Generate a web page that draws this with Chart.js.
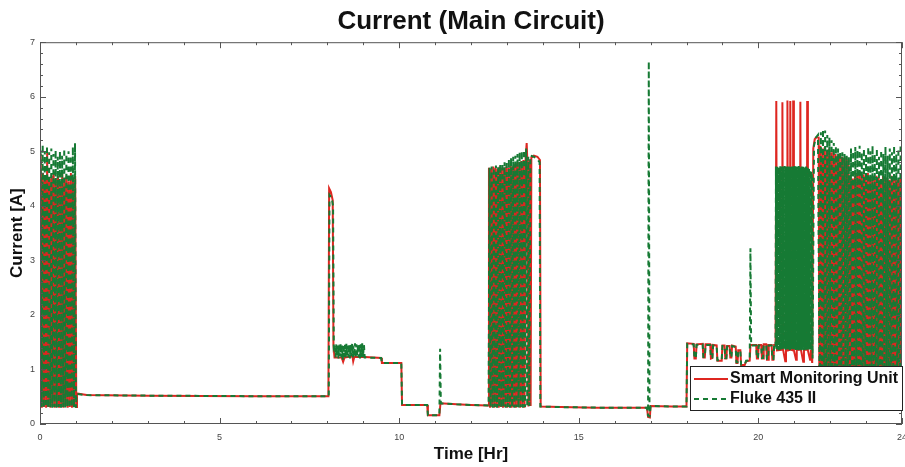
<!DOCTYPE html>
<html>
<head>
<meta charset="utf-8">
<script src="https://cdn.jsdelivr.net/npm/chart.js@4.4.0/dist/chart.umd.min.js"></script>
<style>
  html, body { margin: 0; padding: 0; background: #fff; }
  #wrap { width: 905px; height: 467px; position: relative; }
</style>
</head>
<body>
<div id="wrap"><canvas id="currentChart"></canvas></div>
<script>
// --- Datos: [hora, corriente A] ---
const smuReadings = [
  [0.00,0.32],[0.02,4.95],[0.05,0.30],[0.08,4.60],[0.11,0.31],[0.14,4.55],[0.17,0.30],[0.20,4.98],[0.23,0.31],[0.26,4.50],
  [0.29,0.30],[0.32,4.55],[0.35,0.32],[0.38,4.60],[0.41,0.30],[0.44,4.50],[0.47,0.31],[0.50,4.55],[0.53,0.30],[0.56,4.45],
  [0.59,0.31],[0.62,4.60],[0.65,0.30],[0.68,4.50],[0.71,0.32],[0.74,4.55],[0.77,0.30],[0.80,4.45],[0.83,0.31],[0.86,4.60],
  [0.89,0.30],[0.92,4.50],[0.95,0.31],[0.98,4.55],[1.01,0.31],[1.03,0.56],[1.30,0.53],[3.00,0.52],[6.00,0.51],[8.03,0.51],
  [8.05,4.32],[8.10,4.25],[8.15,4.10],[8.17,1.45],[8.20,1.22],[8.40,1.22],[8.44,1.14],[8.48,1.22],[8.70,1.24],[8.72,1.15],
  [8.75,1.23],[9.05,1.23],[9.50,1.21],[9.52,1.12],[10.06,1.12],[10.08,0.35],[10.78,0.35],[10.80,0.16],[11.12,0.16],[11.15,0.38],
  [11.60,0.36],[12.00,0.35],[12.48,0.34],
  [12.50,4.70],[12.53,0.30],[12.56,4.68],[12.59,0.31],[12.62,4.72],[12.65,0.30],[12.68,4.70],[12.71,0.31],[12.74,4.68],[12.77,0.30],
  [12.80,4.72],[12.83,0.31],[12.86,4.70],[12.89,0.30],[12.92,4.70],[12.95,0.31],[12.98,4.72],[13.01,0.30],[13.04,4.70],[13.07,0.31],
  [13.10,4.74],[13.13,0.30],[13.16,4.72],[13.19,0.31],[13.22,4.76],[13.25,0.30],[13.28,4.78],[13.31,0.31],[13.34,4.80],[13.37,0.30],
  [13.40,4.82],[13.43,0.31],[13.46,4.84],[13.49,0.30],[13.52,4.86],[13.55,5.15],[13.57,4.80],[13.60,0.32],[13.63,4.85],[13.66,0.33],
  [13.68,4.88],[13.75,4.92],[13.85,4.90],[13.92,4.84],[13.94,0.32],
  [14.50,0.31],[15.50,0.30],[16.90,0.30],[16.93,0.13],[16.98,0.12],[17.00,0.33],[17.60,0.32],[18.00,0.32],
  [18.02,1.48],[18.20,1.47],[18.22,1.20],[18.26,1.20],[18.28,1.46],[18.45,1.47],[18.47,1.22],[18.51,1.22],[18.53,1.46],[18.66,1.46],
  [18.68,1.20],[18.72,1.21],[18.74,1.45],[18.84,1.44],[18.86,1.16],[18.98,1.16],[19.00,1.44],[19.06,1.44],[19.08,1.20],[19.11,1.20],
  [19.13,1.43],[19.20,1.43],[19.22,1.22],[19.25,1.22],[19.27,1.44],[19.37,1.42],[19.39,1.12],[19.42,1.12],[19.44,1.35],[19.50,1.35],
  [19.52,1.08],[19.62,1.08],[19.66,1.15],[19.76,1.16],[19.78,1.45],[19.94,1.45],[19.96,1.20],[19.99,1.20],[20.01,1.45],[20.08,1.45],
  [20.10,1.20],[20.13,1.20],[20.15,1.46],[20.22,1.46],[20.24,1.18],[20.27,1.18],[20.29,1.45],[20.37,1.45],[20.39,1.18],[20.42,1.18],
  [20.44,1.45],[20.48,1.45],
  [20.50,5.92],[20.52,1.35],[20.66,1.36],[20.67,5.90],[20.69,1.36],[20.75,1.15],[20.77,1.36],[20.80,1.36],[20.81,5.93],[20.83,1.35],
  [20.88,1.36],[20.89,5.92],[20.91,1.36],[20.96,1.35],[20.97,5.93],[20.99,1.35],[21.05,1.18],[21.07,1.36],[21.16,1.36],[21.17,5.91],
  [21.19,1.35],[21.25,1.14],[21.27,1.36],[21.35,1.36],[21.36,5.92],[21.38,1.35],[21.44,1.18],[21.46,1.36],[21.50,1.12],
  [21.53,5.05],[21.57,5.22],[21.62,5.26],[21.68,5.25],[21.70,0.30],[21.73,5.10],[21.76,0.31],[21.79,5.05],[21.82,0.30],[21.85,5.08],
  [21.88,0.31],[21.91,5.02],[21.94,0.30],[21.97,5.05],[22.00,0.31],[22.03,4.98],[22.06,0.30],[22.09,5.00],[22.12,0.31],[22.15,4.95],
  [22.18,0.30],[22.21,4.92],[22.24,0.31],[22.27,4.95],[22.30,0.30],[22.33,4.90],[22.36,0.31],[22.39,4.88],[22.42,0.30],[22.45,4.90],
  [22.48,0.31],[22.51,4.85],[22.54,0.30],[22.57,4.55],[22.60,0.31],[22.63,4.50],[22.66,0.30],[22.69,4.55],[22.72,0.31],[22.75,4.60],
  [22.78,0.30],[22.81,4.65],[22.84,0.31],[22.87,4.62],[22.90,0.30],[22.93,4.58],[22.96,0.31],[22.99,4.55],[23.02,0.30],[23.05,4.60],
  [23.08,0.31],[23.11,4.52],[23.14,0.30],[23.17,4.55],[23.20,0.31],[23.23,4.50],[23.26,0.30],[23.29,4.55],[23.32,0.31],[23.35,4.52],
  [23.38,0.30],[23.41,4.48],[23.44,0.31],[23.47,4.55],[23.50,0.30],[23.53,4.50],[23.56,0.31],[23.59,4.52],[23.62,0.30],[23.65,4.48],
  [23.68,0.31],[23.71,4.55],[23.74,0.30],[23.77,4.50],[23.80,0.31],[23.83,4.52],[23.86,0.30],[23.89,4.48],[23.92,0.31],[23.95,4.50],
  [23.98,0.30],[24.00,4.45]
];

const flukeReadings = [
  [0.000,0.30],[0.015,5.05],[0.045,0.31],[0.075,5.12],[0.105,0.30],[0.135,5.00],[0.165,0.31],[0.195,5.10],[0.225,0.30],[0.255,4.98],
  [0.285,0.31],[0.315,5.05],[0.345,0.30],[0.375,4.95],[0.405,0.31],[0.435,5.02],[0.465,0.30],[0.495,4.90],[0.525,0.31],[0.555,5.00],
  [0.585,0.30],[0.615,4.92],[0.645,0.31],[0.675,5.05],[0.705,0.30],[0.735,4.95],[0.765,0.31],[0.795,5.00],[0.825,0.30],[0.855,4.92],
  [0.885,0.31],[0.915,5.08],[0.945,0.30],[0.975,5.15],[1.000,0.30],[1.02,0.55],[1.30,0.53],[3.00,0.52],[6.00,0.51],[8.04,0.51],
  [8.06,4.20],[8.12,4.15],[8.16,4.00],[8.18,1.40],
  [8.21,1.45],[8.23,1.22],[8.25,1.46],[8.27,1.24],[8.29,1.44],[8.31,1.20],[8.33,1.45],[8.35,1.25],[8.37,1.47],[8.39,1.22],
  [8.41,1.44],[8.43,1.18],[8.45,1.46],[8.47,1.23],[8.49,1.45],[8.51,1.21],[8.53,1.47],[8.55,1.24],[8.57,1.44],[8.59,1.22],
  [8.61,1.46],[8.63,1.20],[8.65,1.45],[8.67,1.25],[8.69,1.47],[8.71,1.22],[8.73,1.44],[8.75,1.23],[8.77,1.48],[8.79,1.21],
  [8.81,1.46],[8.83,1.24],[8.85,1.45],[8.87,1.22],[8.89,1.47],[8.91,1.20],[8.93,1.46],[8.95,1.23],[8.97,1.48],[8.99,1.22],
  [9.02,1.45],[9.04,1.22],[9.50,1.21],[9.52,1.12],[10.06,1.12],[10.08,0.35],[10.78,0.35],[10.80,0.16],[11.12,0.16],[11.14,1.38],
  [11.16,0.38],[11.60,0.36],[12.00,0.35],[12.49,0.34],
  [12.515,4.70],[12.545,0.31],[12.575,4.72],[12.605,0.30],[12.635,4.70],[12.665,0.31],[12.695,4.74],[12.725,0.30],[12.755,4.72],[12.785,0.31],
  [12.815,4.76],[12.845,0.30],[12.875,4.78],[12.905,0.31],[12.935,4.80],[12.965,0.30],[12.995,4.82],[13.025,0.31],[13.055,4.85],[13.085,0.30],
  [13.115,4.88],[13.145,0.31],[13.175,4.90],[13.205,0.30],[13.235,4.92],[13.265,0.31],[13.295,4.95],[13.325,0.30],[13.355,4.98],[13.385,0.31],
  [13.415,5.00],[13.445,0.30],[13.475,5.02],[13.505,0.31],[13.535,5.05],[13.565,0.32],[13.595,4.90],[13.625,0.33],[13.655,4.92],[13.75,4.90],
  [13.85,4.85],[13.91,4.80],[13.93,0.32],
  [14.50,0.31],[15.50,0.30],[16.90,0.30],[16.93,0.14],[16.95,6.65],[16.97,0.12],[17.00,0.33],[17.60,0.32],[18.00,0.32],
  [18.02,1.47],[18.20,1.46],[18.22,1.21],[18.26,1.21],[18.28,1.45],[18.45,1.46],[18.47,1.23],[18.51,1.23],[18.53,1.45],[18.66,1.45],
  [18.68,1.21],[18.72,1.22],[18.74,1.44],[18.84,1.43],[18.86,1.17],[18.98,1.17],[19.00,1.43],[19.06,1.43],[19.08,1.21],[19.11,1.21],
  [19.13,1.42],[19.20,1.42],[19.22,1.23],[19.25,1.23],[19.27,1.43],[19.37,1.41],[19.39,1.13],[19.42,1.13],[19.44,1.34],[19.50,1.34],
  [19.52,1.09],[19.62,1.09],[19.66,1.16],[19.76,1.17],[19.78,3.22],[19.80,1.44],[19.94,1.44],[19.96,1.21],[19.99,1.21],[20.01,1.44],
  [20.08,1.44],[20.10,1.21],[20.13,1.21],[20.15,1.45],[20.22,1.45],[20.24,1.19],[20.27,1.19],[20.29,1.44],[20.37,1.44],[20.39,1.19],
  [20.42,1.19],[20.44,1.44],[20.48,1.40],
  [20.49,4.72],[20.50,1.38],[20.51,4.70],[20.52,1.36],[20.53,4.72],[20.54,1.38],[20.55,4.68],[20.56,1.35],[20.57,4.72],[20.58,1.37],
  [20.59,4.70],[20.60,1.36],[20.61,4.73],[20.62,1.38],[20.63,4.70],[20.64,1.35],[20.65,4.72],[20.66,1.37],[20.67,4.69],[20.68,1.36],
  [20.69,4.72],[20.70,1.38],[20.71,4.70],[20.72,1.35],[20.73,4.73],[20.74,1.37],[20.75,4.70],[20.76,1.36],[20.77,4.72],[20.78,1.38],
  [20.79,4.68],[20.80,1.35],[20.81,4.72],[20.82,1.37],[20.83,4.70],[20.84,1.36],[20.85,4.72],[20.86,1.38],[20.87,4.70],[20.88,1.35],
  [20.89,4.71],[20.90,1.37],[20.91,4.69],[20.92,1.36],[20.93,4.72],[20.94,1.38],[20.95,4.68],[20.96,1.35],[20.97,4.72],[20.98,1.37],
  [20.99,4.70],[21.00,1.36],[21.01,4.73],[21.02,1.38],[21.03,4.70],[21.04,1.35],[21.05,4.72],[21.06,1.37],[21.07,4.69],[21.08,1.36],
  [21.09,4.72],[21.10,1.38],[21.11,4.70],[21.12,1.35],[21.13,4.73],[21.14,1.37],[21.15,4.70],[21.16,1.36],[21.17,4.72],[21.18,1.38],
  [21.19,4.68],[21.20,1.35],[21.21,4.72],[21.22,1.37],[21.23,4.70],[21.24,1.36],[21.25,4.72],[21.26,1.38],[21.27,4.70],[21.28,1.35],
  [21.29,4.71],[21.30,1.37],[21.31,4.69],[21.32,1.36],[21.33,4.72],[21.34,1.38],[21.35,4.68],[21.36,1.35],[21.37,4.70],[21.38,1.37],
  [21.39,4.68],[21.40,1.36],[21.41,4.70],[21.42,1.38],[21.43,4.66],[21.44,1.35],[21.45,4.65],[21.46,1.37],[21.47,4.62],[21.48,1.36],
  [21.49,4.60],[21.51,1.20],
  [21.55,5.10],[21.60,5.25],[21.66,5.30],[21.71,0.31],[21.74,5.35],[21.77,0.30],[21.80,5.40],[21.83,0.31],[21.86,5.38],[21.89,0.30],
  [21.92,5.30],[21.95,0.31],[21.98,5.25],[22.01,0.30],[22.04,5.20],[22.07,0.31],[22.10,5.15],[22.13,0.30],[22.16,5.10],[22.19,0.31],
  [22.22,5.05],[22.25,0.30],[22.28,5.00],[22.31,0.31],[22.34,4.98],[22.37,0.30],[22.40,4.95],[22.43,0.31],[22.46,4.92],[22.49,0.30],
  [22.52,4.90],[22.55,0.31],[22.58,5.05],[22.61,0.30],[22.64,5.00],[22.67,0.31],[22.70,5.08],[22.73,0.30],[22.76,5.02],[22.79,0.31],
  [22.82,5.10],[22.85,0.30],[22.88,4.98],[22.91,0.31],[22.94,5.05],[22.97,0.30],[23.00,4.95],[23.03,0.31],[23.06,5.08],[23.09,0.30],
  [23.12,5.00],[23.15,0.31],[23.18,5.10],[23.21,0.30],[23.24,4.95],[23.27,0.31],[23.30,5.05],[23.33,0.30],[23.36,4.90],[23.39,0.31],
  [23.42,5.02],[23.45,0.30],[23.48,4.95],[23.51,0.31],[23.54,5.08],[23.57,0.30],[23.60,4.92],[23.63,0.31],[23.66,5.05],[23.69,0.30],
  [23.72,4.98],[23.75,0.31],[23.78,5.10],[23.81,0.30],[23.84,4.95],[23.87,0.31],[23.90,5.05],[23.93,0.30],[23.96,5.12],[23.99,0.31]
];

const seriesNames = ['Smart Monitoring Unit', 'Fluke 435 II'];
const xTickLabels = [0, 5, 10, 15, 20, 24];
const yTickLabels = [0, 1, 2, 3, 4, 5, 6, 7];

const RED = 'rgb(222, 38, 32)';
const GREEN = 'rgb(22, 122, 52)';
const AXIS = '#555';
const FONT = '"Liberation Sans", Arial, sans-serif';

// Ticks hacia adentro en los cuatro lados (estilo MATLAB) + leyenda
const boxTicksPlugin = {
  id: 'boxTicks',
  afterDraw(chart) {
    const { ctx, chartArea: a, scales: { x, y } } = chart;
    ctx.save();
    ctx.strokeStyle = AXIS;
    ctx.lineWidth = 1;
    ctx.strokeRect(a.left + 0.5, a.top + 0.5, a.right - a.left - 1, a.bottom - a.top - 1);

    ctx.beginPath();
    for (let h = 0; h <= 24; h++) {
      const px = Math.round(x.getPixelForValue(h)) + 0.5;
      const len = xTickLabels.includes(h) ? 6 : 3;
      ctx.moveTo(px, a.bottom); ctx.lineTo(px, a.bottom - len);
      ctx.moveTo(px, a.top); ctx.lineTo(px, a.top + len);
    }
    for (let k = 0; k <= 35; k++) {
      const v = k / 5;
      const py = Math.round(y.getPixelForValue(v)) + 0.5;
      const len = k % 5 === 0 ? 6 : 3;
      ctx.moveTo(a.left, py); ctx.lineTo(a.left + len, py);
      ctx.moveTo(a.right, py); ctx.lineTo(a.right - len, py);
    }
    ctx.stroke();

    // Leyenda dentro del área, abajo a la derecha
    const bx = 690, by = 366, bw = 212, bh = 44;
    ctx.fillStyle = '#fff';
    ctx.fillRect(bx, by, bw, bh);
    ctx.strokeStyle = '#222';
    ctx.strokeRect(bx + 0.5, by + 0.5, bw, bh);

    ctx.lineWidth = 2;
    ctx.strokeStyle = RED;
    ctx.setLineDash([]);
    ctx.beginPath(); ctx.moveTo(bx + 4, by + 13); ctx.lineTo(bx + 38, by + 13); ctx.stroke();
    ctx.strokeStyle = GREEN;
    ctx.setLineDash([5, 4]);
    ctx.beginPath(); ctx.moveTo(bx + 4, by + 33); ctx.lineTo(bx + 38, by + 33); ctx.stroke();
    ctx.setLineDash([]);

    ctx.fillStyle = '#111';
    ctx.font = 'bold 16px ' + FONT;
    ctx.textBaseline = 'middle';
    ctx.fillText(seriesNames[0], bx + 40, by + 13);
    ctx.fillText(seriesNames[1], bx + 40, by + 33);
    ctx.restore();
  }
};

const toPoints = rows => rows.map(([h, a]) => ({ x: h, y: a }));

const chart = new Chart(document.getElementById('currentChart'), {
  type: 'line',
  data: {
    datasets: [
      {
        label: seriesNames[0],
        data: toPoints(smuReadings),
        borderColor: RED,
        borderWidth: 2,
        pointRadius: 0,
        tension: 0,
        order: 2
      },
      {
        label: seriesNames[1],
        data: toPoints(flukeReadings),
        borderColor: GREEN,
        borderWidth: 2,
        borderDash: [5, 4],
        pointRadius: 0,
        tension: 0,
        order: 1
      }
    ]
  },
  options: {
    responsive: true,
    maintainAspectRatio: false,
    animation: false,
    layout: { padding: { left: 0, right: 3, top: 0, bottom: 0 } },
    plugins: {
      legend: { display: false },
      tooltip: { enabled: false },
      title: {
        display: true,
        fullSize: false,
        text: 'Current (Main Circuit)',
        color: '#111',
        font: { family: FONT, size: 26, weight: 'bold' },
        padding: { top: 6, bottom: 5 }
      }
    },
    scales: {
      x: {
        type: 'linear',
        min: 0,
        max: 24,
        afterBuildTicks: scale => { scale.ticks = xTickLabels.map(v => ({ value: v })); },
        afterFit: scale => { scale.height = 43; scale.paddingLeft = 0; scale.paddingRight = 0; },
        grid: { display: false, drawTicks: false },
        border: { display: false },
        ticks: { color: '#444', font: { size: 9 }, padding: 8, maxRotation: 0 },
        title: {
          display: true,
          text: 'Time [Hr]',
          color: '#111',
          font: { family: FONT, size: 17, weight: 'bold' },
          padding: { top: 0, bottom: 2 }
        }
      },
      y: {
        type: 'linear',
        min: 0,
        max: 7,
        afterBuildTicks: scale => { scale.ticks = yTickLabels.map(v => ({ value: v })); },
        afterFit: scale => { scale.width = 40; },
        grid: { display: false, drawTicks: false },
        border: { display: false },
        ticks: { color: '#444', font: { size: 9 }, padding: 5 },
        title: {
          display: true,
          text: 'Current [A]',
          color: '#111',
          font: { family: FONT, size: 17, weight: 'bold' },
          padding: { top: 7, bottom: 0 }
        }
      }
    }
  },
  plugins: [boxTicksPlugin]
});
</script>
</body>
</html>
